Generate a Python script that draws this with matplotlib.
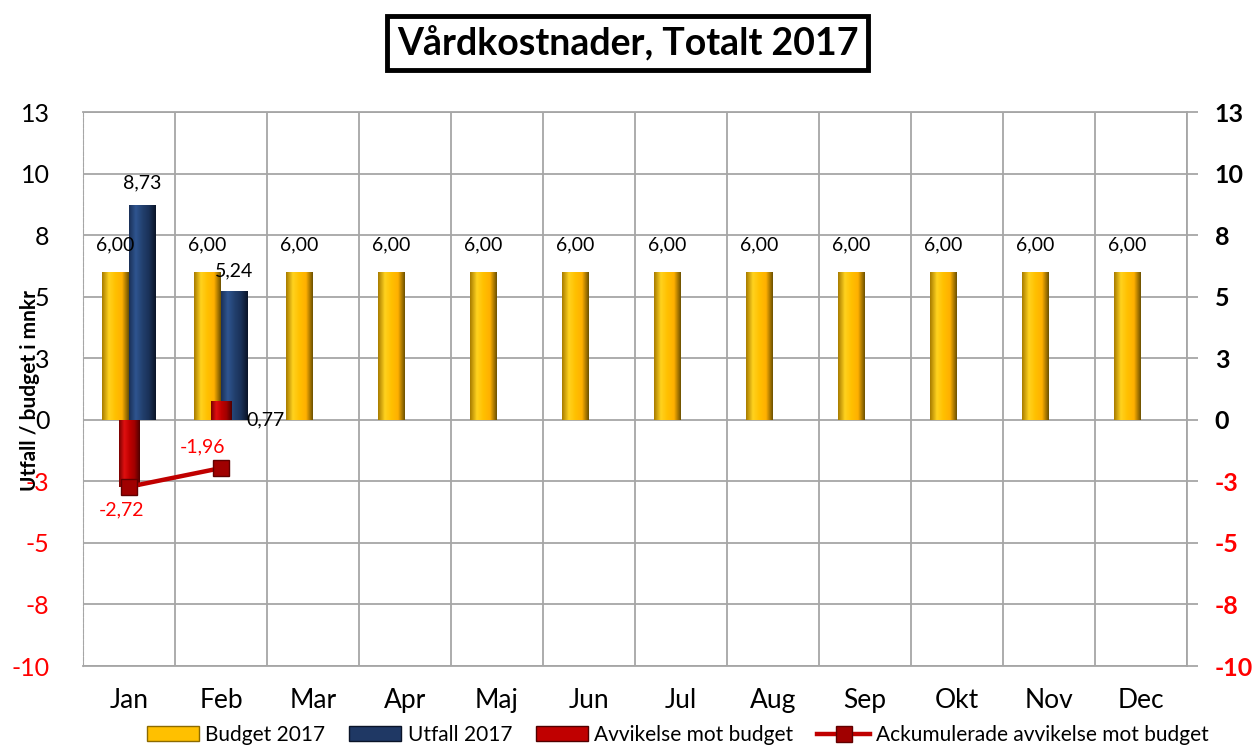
import numpy as np
import matplotlib
matplotlib.use("Agg")
import matplotlib.pyplot as plt
from matplotlib.colors import LinearSegmentedColormap
from matplotlib.patches import Patch
from matplotlib.lines import Line2D

plt.rcParams['font.family'] = ['Lato', 'DejaVu Sans']

# data
months = ['Jan', 'Feb', 'Mar', 'Apr', 'Maj', 'Jun', 'Jul', 'Aug', 'Sep', 'Okt', 'Nov', 'Dec']
budget = [6.00] * 12
utfall = [8.73, 5.24]
avvikelse = [-2.72, 0.77]
ackumulerad = [-2.72, -1.96]
yticks = [-10, -7.5, -5, -2.5, 0, 2.5, 5, 7.5, 10, 12.5]

RED = '#C00000'


def excel_round(v):
    return int(np.sign(v) * np.floor(abs(v) + 0.5))


def fmt(v):
    return f'{v:.2f}'.replace('.', ',')


def gradient_bars(ax, bars, colors, z):
    # fake the 3D bevel look with a horizontal gradient clipped to each bar
    cmap = LinearSegmentedColormap.from_list('g', colors)
    grad = np.linspace(0, 1, 64).reshape(1, -1)
    for b in bars:
        x0, y0 = b.get_x(), b.get_y()
        w, h = b.get_width(), b.get_height()
        im = ax.imshow(grad, cmap=cmap, aspect='auto', zorder=z,
                       extent=[x0, x0 + w, min(y0, y0 + h), max(y0, y0 + h)])
        im.set_clip_path(b)
        b.set_alpha(0)


fig = plt.figure(figsize=(12.55, 7.45), dpi=100)
ax = fig.add_axes([0.0661, 0.106, 0.8797, 0.7436])

x = np.arange(len(months))
w = 0.29
b1 = ax.bar(x - 0.145, budget, w, color='#FFC000', zorder=3)
b2 = ax.bar(x[:len(utfall)] + 0.145, utfall, w, color='#1F3864', zorder=3)
b3 = ax.bar(x[:len(avvikelse)], avvikelse, 0.22, color=RED, zorder=4)
gradient_bars(ax, b1, ['#A87C00', '#FFD21F', '#FFC000', '#FFB000', '#6E5200'], 3)
gradient_bars(ax, b2, ['#1B3158', '#2F5590', '#22406E', '#1A3158', '#0A1428'], 3)
gradient_bars(ax, b3, ['#7A0000', '#E01010', '#C00000', '#A00000', '#500000'], 4)

ax.plot(x[:len(ackumulerad)], ackumulerad, color=RED, lw=3.2, marker='s', ms=11,
        mfc='#A00000', mec='#600000', zorder=5)

# data labels
fs = 14
for xi, v in zip(x, budget):
    ax.text(xi - 0.145, v + 0.75, fmt(v), ha='center', va='bottom', fontsize=fs)
ax.text(x[0] + 0.145, utfall[0] + 0.55, fmt(utfall[0]), ha='center', va='bottom', fontsize=fs)
ax.text(x[1] + 0.145, utfall[1] + 0.45, fmt(utfall[1]), ha='center', va='bottom', fontsize=fs)
ax.text(x[1] + 0.28, 0, fmt(avvikelse[1]), ha='left', va='center', fontsize=fs)
ax.text(x[0] - 0.08, ackumulerad[0] - 0.6, fmt(ackumulerad[0]), ha='center', va='top',
        fontsize=fs, color='#FF0000')
ax.text(x[1] - 0.2, ackumulerad[1] + 0.5, fmt(ackumulerad[1]), ha='center', va='bottom',
        fontsize=fs, color='#FF0000')

ax.set_xlim(-0.5, len(months) - 0.5)
ax.set_ylim(-10, 12.5)
ax.set_xticks(x)
ax.set_xticklabels(months, fontsize=19)
ax.set_xticks(np.arange(-0.5, len(months), 1), minor=True)
ax.tick_params(axis='x', which='both', length=0, pad=16)
ax.set_yticks(yticks)
ax.set_yticklabels([str(excel_round(t)) for t in yticks], fontsize=18)
ax.tick_params(axis='y', length=0, pad=24)
for lbl, t in zip(ax.get_yticklabels(), yticks):
    lbl.set_color('#FF0000' if t < 0 else 'black')
ax.grid(True, axis='y', color='#A6A6A6', lw=1.3, zorder=0)
ax.grid(True, axis='x', which='minor', color='#A6A6A6', lw=1.3, zorder=0)
for s in ['top', 'right', 'bottom']:
    ax.spines[s].set_color('#A6A6A6')
    ax.spines[s].set_linewidth(1.3)
ax.spines['left'].set_color('#A6A6A6')
ax.spines['left'].set_linestyle((0, (3, 2)))

ax2 = ax.twinx()
ax2.set_ylim(-10, 12.5)
ax2.set_yticks(yticks)
ax2.set_yticklabels([str(excel_round(t)) for t in yticks], fontsize=18, fontweight='bold')
ax2.tick_params(axis='y', length=8, color='#A6A6A6', width=1.3, pad=12)
for lbl, t in zip(ax2.get_yticklabels(), yticks):
    lbl.set_color('#FF0000' if t < 0 else 'black')
for s in ax2.spines.values():
    s.set_visible(False)

fig.text(0.5, 0.942, 'Vårdkostnader, Totalt 2017', ha='center', va='center',
         fontsize=27, fontweight='bold',
         bbox=dict(boxstyle='square,pad=0.25', fc='white', ec='black', lw=3.5))
fig.text(0.024, 0.476, 'Utfall / budget i mnkr', rotation=90, ha='center', va='center',
         fontsize=15, fontweight='bold')

handles = [
    Patch(fc='#FFC000', ec='#8B6A00', label='Budget 2017'),
    Patch(fc='#1F3864', ec='#0A1428', label='Utfall 2017'),
    Patch(fc=RED, ec='#500000', label='Avvikelse mot budget'),
    Line2D([0], [0], color=RED, lw=3.2, marker='s', ms=11, mfc='#A00000', mec='#600000',
           label='Ackumulerade avvikelse mot budget'),
]
fig.legend(handles=handles, ncol=4, loc='lower center', bbox_to_anchor=(0.54, -0.025),
           frameon=False, fontsize=15, handlelength=2.5, handleheight=0.7,
           handletextpad=0.3, columnspacing=1.15)

fig.savefig('out.png', dpi=100)
